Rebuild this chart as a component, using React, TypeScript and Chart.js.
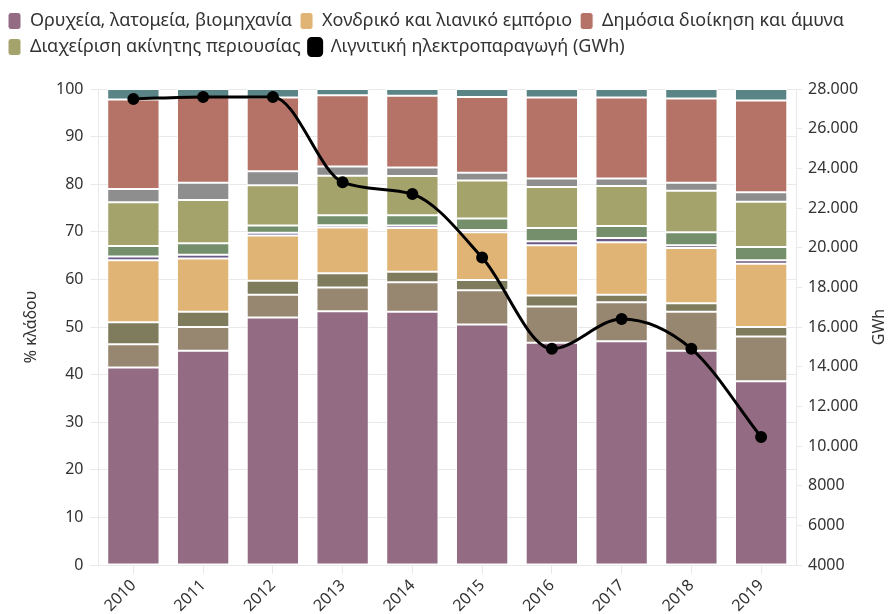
import React, { useEffect, useRef } from "react";
import { Chart, registerables } from "chart.js";

Chart.register(...registerables);

const years = ["2010", "2011", "2012", "2013", "2014", "2015", "2016", "2017", "2018", "2019"];

const mining = [41.5, 45, 52, 53.3, 53.2, 50.5, 46.7, 47, 45, 38.6];
const otherBrown = [4.9, 5, 4.8, 5, 6.2, 7.2, 7.6, 8.2, 8.2, 9.4];
const otherDarkOlive = [4.6, 3.2, 2.9, 3, 2.2, 2.2, 2.3, 1.6, 1.8, 2];
const trade = [13, 11.2, 9.5, 9.6, 9.2, 10, 10.6, 11, 11.6, 13.3];
const otherViolet = [0.8, 0.8, 0.6, 0.5, 0.5, 0.5, 0.8, 0.9, 0.6, 0.7];
const otherGreen = [2.2, 2.4, 1.5, 2.1, 2.2, 2.4, 2.8, 2.5, 2.7, 2.8];
const realEstate = [9.2, 9.1, 8.5, 8.3, 8.2, 8, 8.6, 8.4, 8.7, 9.5];
const otherGray = [2.8, 3.6, 2.9, 1.9, 1.8, 1.6, 1.8, 1.6, 1.7, 2];
const publicAdmin = [18.8, 18, 15.5, 15, 15.1, 15.9, 17, 17, 17.7, 19.3];
const otherTeal = [2.2, 1.7, 1.8, 1.3, 1.4, 1.7, 1.8, 1.8, 2, 2.4];
const lignite = [27500, 27600, 27600, 23300, 22700, 19500, 14900, 16400, 14900, 10450];

const labelMining = "Ορυχεία, λατομεία, βιομηχανία";
const labelTrade = "Χονδρικό και λιανικό εμπόριο";
const labelPublic = "Δημόσια διοίκηση και άμυνα";
const labelRealEstate = "Διαχείριση ακίνητης περιουσίας";
const labelLignite = "Λιγνιτική ηλεκτροπαραγωγή (GWh)";
const legendOrder = [labelMining, labelTrade, labelPublic, labelRealEstate, labelLignite];

const FONT = "'Noto Sans', sans-serif";
const TEXT = "#333333";
const GRID = "#e9e9e9";

function fmtGreek(v: number): string {
  const n = Math.round(v);
  if (Math.abs(n) < 10000) return String(n);
  return String(n).replace(/\B(?=(\d{3})+(?!\d))/g, ".");
}

const rightTitlePlugin = {
  id: "rightTitle",
  beforeLayout(chart: any) {
    const lg = chart.legend;
    if (lg && !lg.__patched) {
      const orig = lg.fit;
      lg.fit = function () {
        orig.call(this);
        this.height += 23;
      };
      lg.__patched = true;
    }
  },
  afterDraw(chart: any) {
    const { ctx, chartArea } = chart;
    ctx.save();
    ctx.translate(879, (chartArea.top + chartArea.bottom) / 2);
    ctx.rotate(-Math.PI / 2);
    ctx.font = `16px ${FONT}`;
    ctx.fillStyle = TEXT;
    ctx.textAlign = "center";
    ctx.textBaseline = "middle";
    ctx.fillText("GWh", 0, 0);
    ctx.restore();
  },
};

function barSet(label: string, data: number[], color: string) {
  return {
    type: "bar" as const,
    label,
    data,
    backgroundColor: color,
    borderColor: "#ffffff",
    borderWidth: 1,
    borderSkipped: false,
    yAxisID: "y",
    stack: "s",
    order: 1,
    barPercentage: 0.75,
    categoryPercentage: 1,
  };
}

export default function App() {
  const ref = useRef<HTMLCanvasElement | null>(null);

  useEffect(() => {
    document.body.style.margin = "0";
    const canvas = ref.current;
    if (!canvas) return;
    const chart = new Chart(canvas, {
      type: "bar",
      data: {
        labels: years,
        datasets: [
          barSet(labelMining, mining, "#936c84"),
          barSet("", otherBrown, "#978670"),
          barSet("", otherDarkOlive, "#7e7c5c"),
          barSet(labelTrade, trade, "#dfb475"),
          barSet("", otherViolet, "#6b5b86"),
          barSet("", otherGreen, "#758f6c"),
          barSet(labelRealEstate, realEstate, "#a4a36b"),
          barSet("", otherGray, "#8e8e8e"),
          barSet(labelPublic, publicAdmin, "#b57368"),
          barSet("", otherTeal, "#5a8486"),
          {
            type: "line" as const,
            label: labelLignite,
            data: lignite,
            yAxisID: "y1",
            borderColor: "#000000",
            backgroundColor: "#000000",
            borderWidth: 3,
            pointRadius: 4.5,
            pointBackgroundColor: "#000000",
            pointBorderColor: "#000000",
            cubicInterpolationMode: "monotone",
            order: 0,
          } as any,
        ],
      },
      options: {
        responsive: false,
        animation: false,
        layout: { padding: { top: 4, left: 0, right: 0, bottom: 0 } },
        plugins: {
          tooltip: { enabled: false },
          legend: {
            position: "top",
            align: "start",
            labels: {
              font: { family: FONT, size: 18 },
              color: TEXT,
              boxWidth: 13,
              boxHeight: 17,
              padding: 8,
              useBorderRadius: true,
              borderRadius: 3,
              filter: (item: any) => !!item.text,
              sort: (a: any, b: any) => legendOrder.indexOf(a.text) - legendOrder.indexOf(b.text),
            },
          } as any,
        },
        scales: {
          x: {
            stacked: true,
            offset: true,
            grid: { display: true, drawOnChartArea: false, offset: false, color: GRID, tickLength: 9 },
            border: { display: true, color: GRID },
            ticks: {
              font: { family: FONT, size: 16 },
              color: TEXT,
              minRotation: 45,
              maxRotation: 45,
              padding: 2,
            },
            afterFit: (s: any) => {
              s.height = 49;
            },
          },
          y: {
            stacked: true,
            position: "left",
            min: 0,
            max: 100,
            ticks: {
              stepSize: 10,
              font: { family: FONT, size: 16 },
              color: TEXT,
              padding: 7,
            },
            grid: { color: GRID, tickLength: 8 },
            border: { display: true, color: GRID },
            title: {
              display: true,
              text: "% κλάδου",
              font: { family: FONT, size: 16 },
              color: TEXT,
              padding: { top: 22, bottom: 0 },
            },
            afterFit: (s: any) => {
              s.width = 98.5;
            },
          },
          y1: {
            position: "right",
            min: 4000,
            max: 28000,
            ticks: {
              stepSize: 2000,
              font: { family: FONT, size: 16 },
              color: TEXT,
              padding: 6,
              callback: (v: any) => fmtGreek(Number(v)),
            },
            grid: { drawOnChartArea: false, color: GRID, tickLength: 6 },
            border: { display: true, color: GRID },
            afterFit: (s: any) => {
              s.width = 92;
            },
          },
        },
      } as any,
      plugins: [rightTitlePlugin],
    });
    return () => chart.destroy();
  }, []);

  return (
    <div style={{ width: 888, height: 614 }}>
      <canvas ref={ref} width={888} height={614} style={{ display: "block" }} />
    </div>
  );
}
